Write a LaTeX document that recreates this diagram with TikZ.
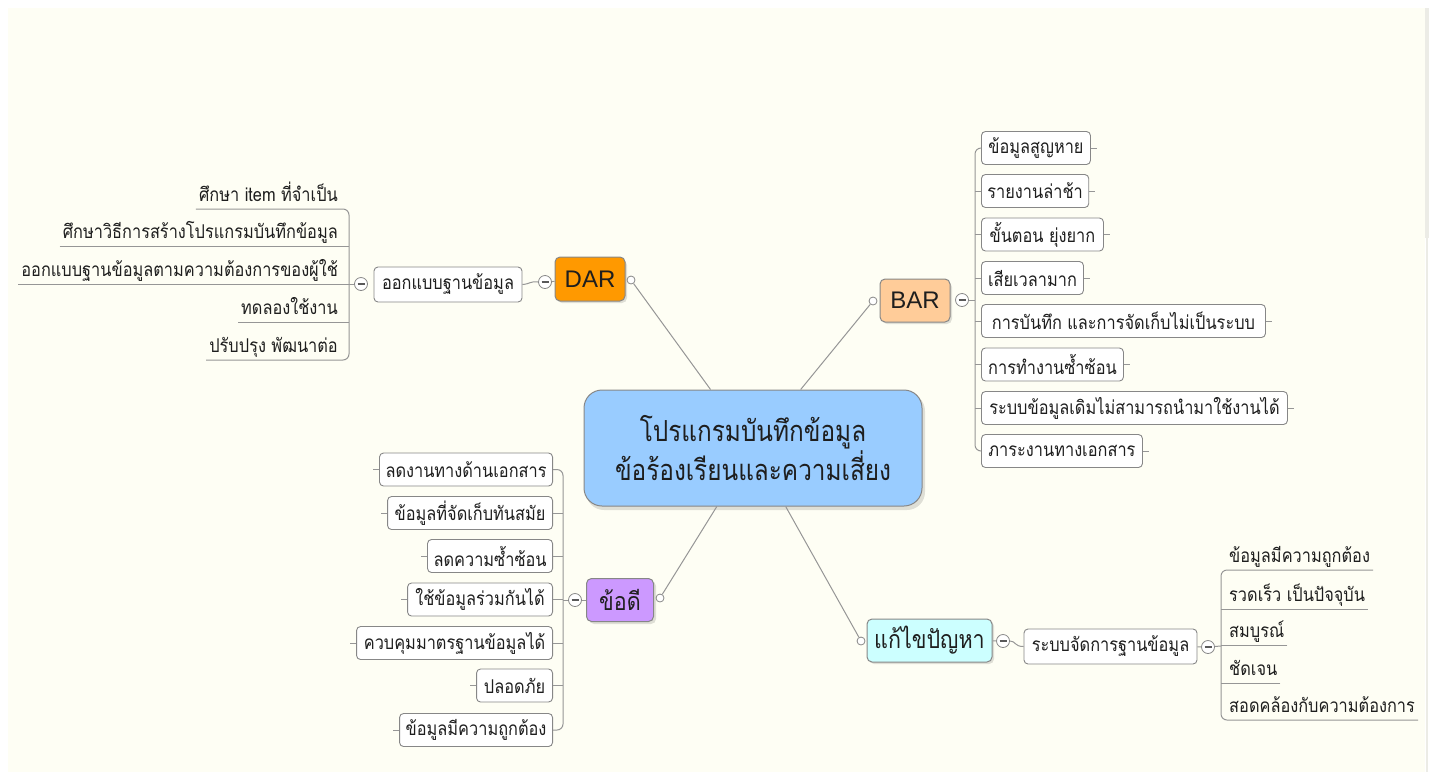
\documentclass[tikz,border=0pt]{standalone}
\usepackage{fontspec}
\setmainfont{Liberation Sans}
\newfontfamily\thai[Script=Thai,FakeStretch=0.86]{Loma}
\newfontfamily\thaic[Script=Thai,FakeStretch=0.84]{Loma}
\definecolor{bg}{RGB}{254,254,244}
\definecolor{edge}{RGB}{236,236,230}
\definecolor{lnc}{RGB}{150,150,150}
\definecolor{bdr}{RGB}{135,135,135}
\definecolor{cfill}{RGB}{153,204,255}
\definecolor{darf}{RGB}{255,153,0}
\definecolor{barf}{RGB}{255,204,153}
\definecolor{prof}{RGB}{204,153,255}
\definecolor{fixf}{RGB}{204,255,255}
\definecolor{txt}{RGB}{30,30,30}
\tikzset{
  conn/.style={draw=lnc, line width=1pt},
  shade1/.style={draw=none, fill=black, opacity=0.12},
  mainbox/.style={draw=bdr, line width=1pt, rounded corners=5pt, inner sep=0pt, text=txt, font=\fontsize{24}{28}\selectfont},
  subbox/.style={draw=bdr, line width=0.9pt, rounded corners=4pt, fill=white, inner xsep=6pt, inner ysep=0pt, minimum height=33pt, text=txt, font=\thai\fontsize{19}{22}\selectfont},
  uline/.style={inner xsep=3pt, inner ysep=2pt, text height=14pt, text depth=5pt, text=txt, font=\thai\fontsize{19}{22}\selectfont},
  knob/.style={circle, draw=bdr, fill=white, line width=0.8pt, minimum size=13pt, inner sep=0pt,
    path picture={\draw[line width=1.3pt, black!65] ([xshift=-3.5pt]path picture bounding box.center) -- ([xshift=3.5pt]path picture bounding box.center);}},
  dot/.style={circle, draw=bdr, fill=white, line width=0.8pt, minimum size=8pt, inner sep=0pt},
}
\begin{document}
\begin{tikzpicture}[x=1pt,y=-1pt]
\useasboundingbox (0,0) rectangle (1437,772);
\fill[white] (0,0) rectangle (1437,772);
\fill[bg] (8,8) rectangle (1425,772);
\fill[edge] (1425,8) rectangle (1429,238);
\fill[edge] (1426,238) rectangle (1428,772);

% ---------- central topic ----------
\fill[shade1, rounded corners=18pt] (586,393) rectangle (925,510);
\node[mainbox, rounded corners=18pt, fill=cfill, minimum width=338pt, minimum height=116pt,
  align=center, font=\thaic\fontsize{29}{32}\selectfont] (center) at (753,448)
  {โปรแกรมบันทึกข้อมูล\\ข้อร้องเรียนและความเสี่ยง};

% ---------- DAR ----------
\fill[shade1, rounded corners=5pt] (557,260) rectangle (627,303);
\node[mainbox, fill=darf, minimum width=70pt, minimum height=44pt] (dar) at (590,279) {DAR};
\node[dot] (dard) at (631,280) {};
\node[knob] (dark) at (545,282) {};
\node[subbox, minimum width=148pt, minimum height=35pt] (design) at (448,284.5) {ออกแบบฐานข้อมูล};
\node[knob] (desk) at (361,284) {};
\draw[conn] (dard) -- (center);
\draw[conn] (dark) -- (dar);
\draw[conn] (design.east) .. controls (530,284) and (530,281) .. (dark.west);
\draw[conn] (desk) -- (349,284);

\node[uline, anchor=south east] (d1) at (341,209) {ศึกษา item ที่จำเป็น};
\node[uline, anchor=south east] (d2) at (341,246) {ศึกษาวิธีการสร้างโปรแกรมบันทึกข้อมูล};
\node[uline, anchor=south east] (d3) at (341,284) {ออกแบบฐานข้อมูลตามความต้องการของผู้ใช้};
\node[uline, anchor=south east] (d4) at (341,322) {ทดลองใช้งาน};
\node[uline, anchor=south east] (d5) at (341,360) {ปรับปรุง พัฒนาต่อ};
\draw[conn, rounded corners=6pt] (d1.south west) -- (349,209) -- (349,360) -- (d5.south west);
\draw[conn] (d2.south west) -- (349,246);
\draw[conn] (d3.south west) -- (349,284);
\draw[conn] (d4.south west) -- (349,322);

% ---------- BAR ----------
\fill[shade1, rounded corners=5pt] (882,282) rectangle (952,324);
\node[mainbox, fill=barf, minimum width=70pt, minimum height=43pt] (bar) at (915,300.5) {BAR};
\node[dot] (bard) at (873,301) {};
\node[knob] (bark) at (962,300) {};
\draw[conn] (bard) -- (center);
\draw[conn] (bark) -- (975,300);

\node[subbox, anchor=west, minimum width=109pt] (b1) at (981,148) {ข้อมูลสูญหาย};
\node[subbox, anchor=west, minimum width=106pt] (b2) at (981,191) {รายงานล่าช้า};
\node[subbox, anchor=west, minimum width=122pt] (b3) at (981,234.5) {ขั้นตอน ยุ่งยาก};
\node[subbox, anchor=west, minimum width=102pt] (b4) at (981,278) {เสียเวลามาก};
\node[subbox, anchor=west, minimum width=284pt] (b5) at (981,321) {การบันทึก และการจัดเก็บไม่เป็นระบบ};
\node[subbox, anchor=west, minimum width=142pt] (b6) at (981,364.5) {การทำงานซ้ำซ้อน};
\node[subbox, anchor=west, minimum width=306pt] (b7) at (981,408) {ระบบข้อมูลเดิมไม่สามารถนำมาใช้งานได้};
\node[subbox, anchor=west, minimum width=161pt] (b8) at (981,451) {ภาระงานทางเอกสาร};
\draw[conn, rounded corners=6pt] (b1.west) -- (975,148) -- (975,451) -- (b8.west);
\foreach \n in {b2,b3,b4,b5,b6,b7}{\draw[conn] (\n.west) -- +(-6,0);}
\foreach \n in {b1,b2,b3,b4,b5,b6,b7,b8}{\draw[conn] (\n.east) -- +(6,0);}

% ---------- pros ----------
\fill[shade1, rounded corners=5pt] (589,581) rectangle (656,624);
\node[mainbox, fill=prof, minimum width=67pt, minimum height=43pt, font=\thai\fontsize{25}{28}\selectfont] (pro) at (620,600) {ข้อดี};
\node[dot] (prod) at (660,598) {};
\node[knob] (prok) at (575,600) {};
\draw[conn] (prod) -- (center);
\draw[conn] (prok) -- (pro);
\draw[conn] (prok) -- (563,600);

\node[subbox, anchor=east, minimum width=172pt] (p1) at (553,469.5) {ลดงานทางด้านเอกสาร};
\node[subbox, anchor=east, minimum width=165pt] (p2) at (553,513) {ข้อมูลที่จัดเก็บทันสมัย};
\node[subbox, anchor=east, minimum width=125pt] (p3) at (553,556) {ลดความซ้ำซ้อน};
\node[subbox, anchor=east, minimum width=145pt] (p4) at (553,599.5) {ใช้ข้อมูลร่วมกันได้};
\node[subbox, anchor=east, minimum width=196pt] (p5) at (553,643) {ควบคุมมาตรฐานข้อมูลได้};
\node[subbox, anchor=east, minimum width=76pt] (p6) at (553,685.5) {ปลอดภัย};
\node[subbox, anchor=east, minimum width=153pt] (p7) at (553,730) {ข้อมูลมีความถูกต้อง};
\draw[conn, rounded corners=6pt] (p1.east) -- (563,469.5) -- (563,730) -- (p7.east);
\foreach \n in {p2,p3,p4,p5,p6}{\draw[conn] (\n.east) -- +(10,0);}
\foreach \n in {p1,p2,p3,p4,p5,p6,p7}{\draw[conn] (\n.west) -- +(-6,0);}

% ---------- fix ----------
\fill[shade1, rounded corners=5pt] (869,621) rectangle (994,664);
\node[mainbox, fill=fixf, minimum width=125pt, minimum height=43pt, font=\thai\fontsize{25}{28}\selectfont] (fix) at (929.5,640.5) {แก้ไขปัญหา};
\node[dot] (fixd) at (861,641) {};
\node[knob] (fixk) at (1003,641) {};
\node[subbox, minimum width=173pt, minimum height=35pt] (dbms) at (1110.5,646.5) {ระบบจัดการฐานข้อมูล};
\node[knob] (dbk) at (1208,647) {};
\draw[conn] (fixd) -- (center);
\draw[conn] (fixk) -- (fix);
\draw[conn] (fixk.east) .. controls (1016,641) and (1014,646.5) .. (dbms.west);
\draw[conn] (dbk) -- (dbms);
\draw[conn] (dbk) -- (1221,646);

\node[uline, anchor=south west] (f1) at (1226,570) {ข้อมูลมีความถูกต้อง};
\node[uline, anchor=south west] (f2) at (1226,609) {รวดเร็ว เป็นปัจจุบัน};
\node[uline, anchor=south west] (f3) at (1226,645) {สมบูรณ์};
\node[uline, anchor=south west] (f4) at (1226,683) {ชัดเจน};
\node[uline, anchor=south west] (f5) at (1226,720) {สอดคล้องกับความต้องการ};
\draw[conn, rounded corners=6pt] (f1.south east) -- (1221,570) -- (1221,720) -- (f5.south east);
\draw[conn] (f2.south east) -- (1221,609);
\draw[conn] (f3.south east) -- (1221,645);
\draw[conn] (f4.south east) -- (1221,683);
\end{tikzpicture}
\end{document}
